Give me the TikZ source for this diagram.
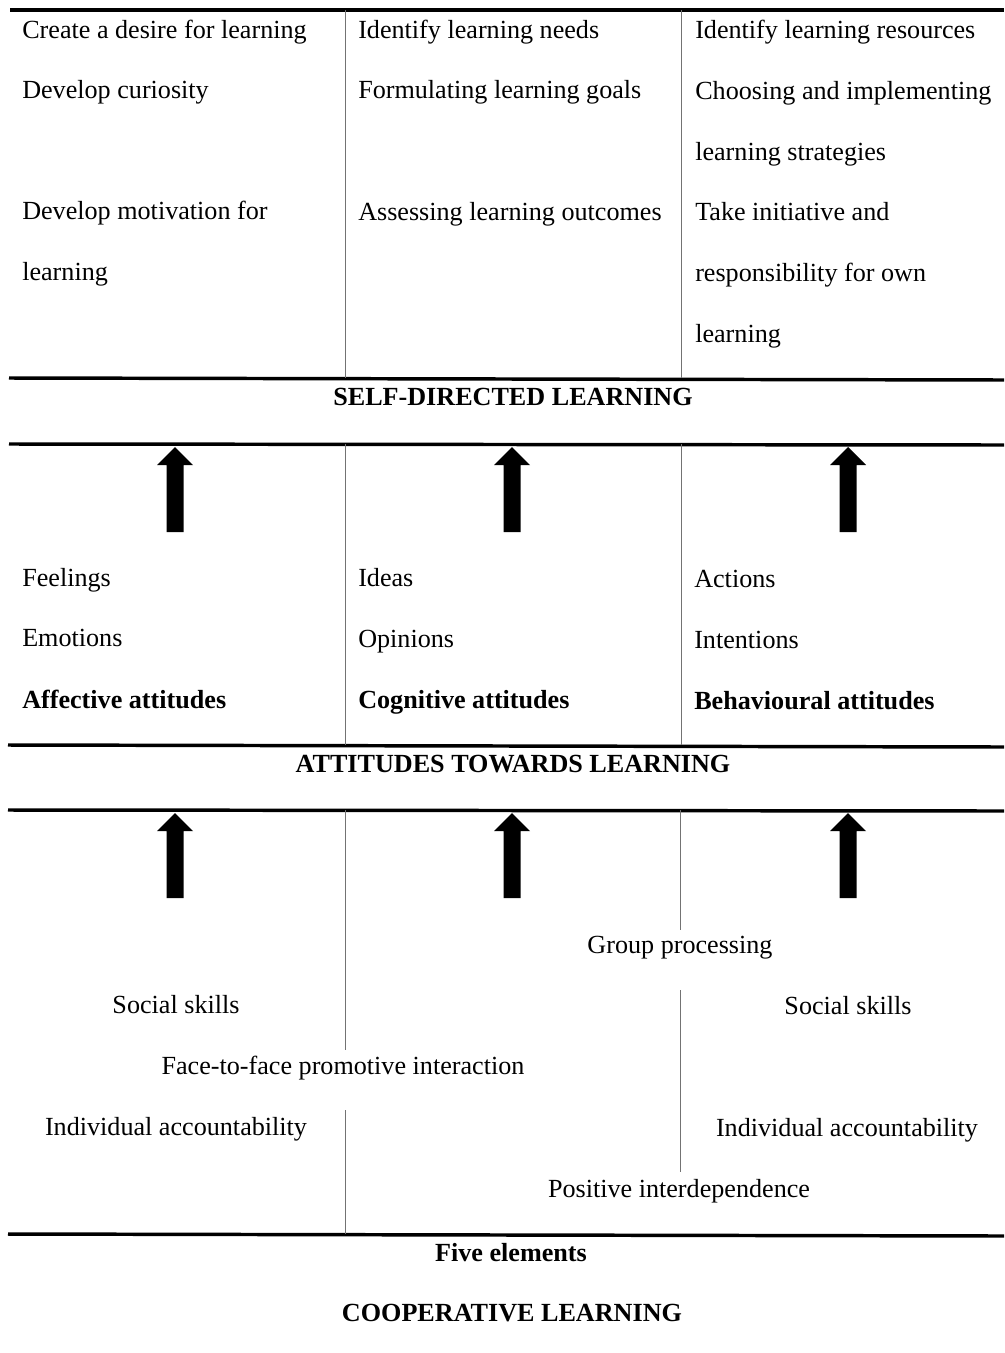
\documentclass[tikz,border=0pt]{standalone}
\usepackage{fontspec}
\setmainfont{Liberation Serif}
\begin{document}
\begin{tikzpicture}[x=0.75pt,y=-0.75pt,
  txt/.style={anchor=base west,inner sep=0pt,font=\fontsize{19.6}{23}\selectfont,yshift=-1.2pt},
  ctxt/.style={anchor=base,inner sep=0pt,font=\fontsize{19.6}{23}\selectfont,yshift=-1.2pt},
  btxt/.style={txt,font=\fontsize{19.6}{23}\selectfont\bfseries},
  head/.style={anchor=base,inner sep=0pt,font=\fontsize{19.6}{23}\selectfont\bfseries,yshift=-1.2pt},
  rule/.style={line width=2.6pt,black},
  sep/.style={line width=0.7pt,black!55},
  uparrow/.style={fill=black}]
\useasboundingbox (0,0) rectangle (1004,1353);
\fill[white] (0,0) rectangle (1004,1353);

% horizontal rules
\coordinate (r1a) at (10,10);   \coordinate (r1b) at (1004,10);
\coordinate (r2a) at (9,378);   \coordinate (r2b) at (1004,380);
\coordinate (r3a) at (9,444);   \coordinate (r3b) at (1004,445);
\coordinate (r4a) at (8,745);   \coordinate (r4b) at (1004,747);
\coordinate (r5a) at (8,810);   \coordinate (r5b) at (1004,811);
\coordinate (r6a) at (8,1234);  \coordinate (r6b) at (1004,1236);
\foreach \i in {1,...,6} \draw[rule] (r\i a) -- (r\i b);

% vertical separators
\draw[sep] (345,10) -- (345,378);
\draw[sep] (681,10) -- (681,378);
\draw[sep] (345,444) -- (345,745);
\draw[sep] (681,444) -- (681,745);
\draw[sep] (345,810) -- (345,1050);
\draw[sep] (345,1110) -- (345,1234);
\draw[sep] (680,810) -- (680,930);
\draw[sep] (680,990) -- (680,1172);

% ---- top block: self-directed learning ----
\node[txt] (a1) at (22,37) {Create a desire for learning};
\node[txt] (a2) at (22,97) {Develop curiosity};
\node[txt] (a3) at (22,218) {Develop motivation for};
\node[txt] (a4) at (22,279) {learning};

\node[txt] (b1) at (358,37) {Identify learning needs};
\node[txt] (b2) at (358,97) {Formulating learning goals};
\node[txt] (b3) at (358,219) {Assessing learning outcomes};

\node[txt] (c1) at (695,37) {Identify learning resources};
\node[txt] (c2) at (695,98) {Choosing and implementing};
\node[txt] (c3) at (695,159) {learning strategies};
\node[txt] (c4) at (695,219) {Take initiative and};
\node[txt] (c5) at (695,280) {responsibility for own};
\node[txt] (c6) at (695,341) {learning};

\node[head] (sdl) at (513,404) {SELF-DIRECTED LEARNING};

% arrows
\foreach \n/\x/\y in {u1/175/447,u2/512/447,u3/848/447,v1/175/813,v2/512/813,v3/848/813}{
  \fill[uparrow] (\x,\y) -- (\x+18,\y+18) -- (\x+8.5,\y+18) -- (\x+8.5,\y+85)
     -- (\x-8.5,\y+85) -- (\x-8.5,\y+18) -- (\x-18,\y+18) -- cycle;
}

% ---- attitudes block ----
\node[txt] (d1) at (22,585) {Feelings};
\node[txt] (d2) at (22,645) {Emotions};
\node[btxt] (d3) at (22,707) {Affective attitudes};

\node[txt] (e1) at (358,585) {Ideas};
\node[txt] (e2) at (358,646) {Opinions};
\node[btxt] (e3) at (358,707) {Cognitive attitudes};

\node[txt] (f1) at (694,586) {Actions};
\node[txt] (f2) at (694,647) {Intentions};
\node[btxt] (f3) at (694,708) {Behavioural attitudes};

\node[head] (atl) at (513,771) {ATTITUDES TOWARDS LEARNING};

% ---- cooperative block ----
\node[ctxt] (g1) at (680,952) {Group processing};
\node[ctxt] (g2) at (176,1012) {Social skills};
\node[ctxt] (g3) at (848,1013) {Social skills};
\node[ctxt] (g4) at (343,1073) {Face-to-face promotive interaction};
\node[ctxt] (g5) at (176,1134) {Individual accountability};
\node[ctxt] (g6) at (847,1135) {Individual accountability};
\node[ctxt] (g7) at (679,1196) {Positive interdependence};

\node[head] (fe) at (511,1260) {Five elements};
\node[head] (cl) at (512,1320) {COOPERATIVE LEARNING};
\end{tikzpicture}
\end{document}
